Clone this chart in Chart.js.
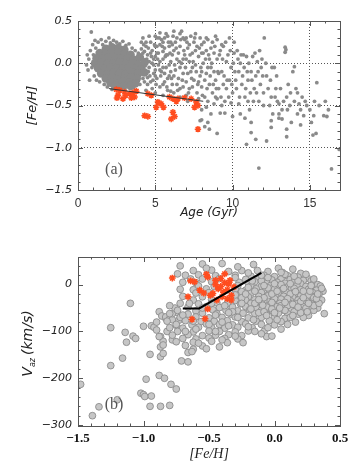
<!DOCTYPE html>
<html>
<head>
<meta charset="utf-8">
<script src="https://cdn.jsdelivr.net/npm/chart.js@4"></script>
<style>
  body { margin: 0; background: #fff; }
  canvas { display: block; }
</style>
</head>
<body>
<canvas id="ageChart" width="361" height="230"></canvas>
<canvas id="vazChart" width="361" height="237"></canvas>
<script>
// ---- panel (a): [Fe/H] vs age ----
const ageTicks = [0, 5, 10, 15];
const fehTicksA = [-1.5, -1.0, -0.5, 0.0, 0.5];
const ageGrid = [5, 10, 15];
const fehGridA = [-1.0, -0.5, 0.0];

// dense clump of young stars (drawn with bigger dots)
const coreAgeFeh = [
  [1.8, 0.17], [2.2, 0.19], [2.6, 0.18], [3.0, 0.16],
  [1.4, 0.12], [1.8, 0.11], [2.2, 0.13], [2.6, 0.12], [3.0, 0.11], [3.4, 0.10],
  [1.2, 0.06], [1.6, 0.05], [2.0, 0.07], [2.4, 0.06], [2.8, 0.05], [3.2, 0.06], [3.6, 0.04], [4.0, 0.07],
  [1.1, 0.00], [1.5, 0.01], [1.9, -0.01], [2.3, 0.00], [2.7, 0.01], [3.1, -0.01], [3.5, 0.00], [3.9, -0.02], [4.3, 0.01],
  [1.3, -0.06], [1.7, -0.07], [2.1, -0.05], [2.5, -0.06], [2.9, -0.07], [3.3, -0.05], [3.7, -0.06], [4.1, -0.07],
  [1.5, -0.12], [1.9, -0.13], [2.3, -0.11], [2.7, -0.12], [3.1, -0.13], [3.5, -0.11], [3.9, -0.12], [4.3, -0.11],
  [1.8, -0.18], [2.2, -0.17], [2.6, -0.19], [3.0, -0.18], [3.4, -0.17], [3.8, -0.18],
  [2.1, -0.23], [2.5, -0.24], [2.9, -0.22], [3.3, -0.23], [3.7, -0.24],
  [2.4, -0.27], [2.9, -0.28], [3.4, -0.27]
];

const fieldAgeFeh = [
  [0.55, -0.02], [0.6, 0.10], [0.65, -0.08], [0.7, 0.05], [0.75, -0.20], [0.8, 0.15], [0.86, 0.37],
  [0.9, -0.05], [0.95, 0.22], [1.0, 0.10], [1.05, -0.15], [1.1, 0.27], [1.15, 0.18], [1.2, -0.20],
  [1.3, 0.25], [1.4, -0.22], [1.5, 0.28], [1.6, 0.22], [1.7, -0.25], [1.8, 0.26], [1.9, -0.28],
  [2.0, 0.30], [2.1, 0.24], [2.3, 0.27], [2.5, 0.25], [2.7, 0.23], [2.9, 0.26], [3.1, 0.21],
  [3.3, 0.23], [3.5, 0.18], [3.7, 0.15], [3.9, 0.12], [4.1, 0.17], [4.2, -0.18], [4.3, -0.22],
  [4.0, -0.25], [2.2, -0.31], [2.6, -0.31], [3.0, -0.31], [3.6, -0.29], [3.9, -0.21],
  [4.2, 0.30], [4.4, 0.20], [4.5, 0.10], [4.6, -0.05], [4.4, -0.10], [4.7, 0.25], [4.8, 0.15],
  [4.6, 0.02], [4.9, -0.12], [4.5, -0.25], [4.8, -0.30], [5.0, 0.32], [5.1, 0.20], [5.0, 0.08],
  [5.2, -0.02], [5.1, -0.18], [5.3, -0.28], [5.2, 0.12], [5.4, 0.28], [5.5, 0.05], [5.4, -0.10],
  [5.6, -0.22], [5.6, 0.18], [5.7, 0.35], [5.8, 0.10], [5.7, -0.05], [5.9, -0.15], [5.8, -0.32],
  [6.0, 0.25], [6.0, 0.02], [6.1, -0.25], [6.2, 0.38], [6.2, 0.15], [6.3, -0.08], [6.2, -0.35],
  [6.4, 0.30], [6.4, 0.05], [6.5, -0.18], [6.6, 0.20], [6.6, -0.30], [6.7, 0.38], [6.7, 0.00],
  [6.8, -0.12], [6.9, 0.28], [6.9, 0.10], [7.0, -0.22], [7.0, -0.38], [7.1, 0.18], [7.2, 0.02],
  [7.2, -0.30], [7.3, 0.32], [7.3, -0.10], [7.4, 0.12], [7.5, -0.20], [7.5, 0.25], [7.6, -0.02],
  [7.7, 0.20], [7.7, -0.35], [7.8, 0.08], [7.9, -0.15], [8.0, 0.22], [8.0, -0.28], [8.1, 0.00],
  [8.2, -0.40], [8.3, 0.15], [8.3, -0.12], [8.4, 0.28], [8.5, -0.25], [8.5, 0.05], [8.6, -0.05],
  [8.7, 0.25], [8.7, -0.35], [8.8, 0.12], [8.9, -0.20], [9.0, 0.05], [9.0, 0.28], [9.1, -0.30],
  [9.2, 0.15], [9.3, -0.10], [9.4, 0.20], [9.5, -0.45], [9.6, 0.02], [9.7, 0.10], [9.8, -0.20],
  [9.9, -0.05], [10.0, -0.35], [10.1, 0.12], [10.3, 0.15], [10.4, -0.10], [10.5, 0.00],
  [4.3, 0.14], [4.5, -0.17], [4.7, -0.22], [4.9, 0.05], [5.0, -0.08], [5.3, 0.22], [5.3, 0.02],
  [5.5, -0.25], [5.6, 0.30], [5.9, 0.20], [5.9, -0.02], [6.1, 0.10], [6.3, 0.25], [6.4, -0.25],
  [6.5, 0.12], [6.8, 0.30], [6.8, -0.28], [7.0, 0.05], [7.1, -0.12], [7.4, -0.28], [7.6, 0.15],
  [7.8, -0.22], [8.1, 0.12], [8.4, -0.05], [8.6, 0.18], [8.9, -0.40], [9.1, -0.12], [9.4, -0.25],
  [4.4, 0.25], [4.8, 0.00], [5.1, 0.30], [5.5, 0.14], [5.8, -0.18], [6.0, -0.10], [6.6, -0.05],
  [7.2, 0.22], [7.9, 0.30], [8.2, -0.20], [8.8, -0.10], [9.6, -0.30], [10.2, -0.20], [10.6, -0.25],
  [4.25, 0.22], [4.35, -0.03], [4.45, 0.05], [4.55, 0.18], [4.65, -0.15], [4.75, 0.08], [4.85, -0.20],
  [4.95, 0.22], [5.05, -0.25], [5.15, 0.05], [5.25, 0.30], [5.35, -0.15], [5.45, 0.20], [5.5, -0.05],
  [5.65, 0.08], [5.75, -0.28], [5.85, 0.25], [5.95, 0.12], [6.05, -0.18], [6.15, 0.32], [6.25, -0.02],
  [6.35, 0.18], [6.45, -0.32], [6.55, 0.02], [6.65, 0.28], [6.75, -0.20], [6.85, 0.15], [6.95, -0.05],
  [7.05, 0.25], [7.15, -0.35], [7.25, 0.10], [7.35, -0.18], [7.45, 0.02], [7.55, 0.30], [7.65, -0.10],
  [7.75, -0.25], [7.85, 0.18], [7.95, -0.05], [8.05, -0.38], [8.15, 0.25], [8.25, 0.05], [8.35, -0.30],
  [8.45, 0.10], [8.55, -0.15], [8.65, 0.00], [8.75, -0.25], [8.85, 0.20], [8.95, -0.30], [9.05, -0.10],
  [9.15, 0.10], [9.25, -0.40], [9.35, 0.05], [9.45, -0.15], [9.55, 0.25], [9.65, -0.20], [9.75, -0.40],
  [9.85, 0.15], [9.95, -0.25], [10.05, 0.00], [10.15, -0.10], [10.25, -0.30], [10.35, 0.05],
  [10.45, -0.40], [10.55, 0.10], [10.65, -0.15], [10.75, -0.05], [10.85, -0.30], [10.95, -0.10],
  [11.05, 0.00], [11.15, -0.35], [11.25, -0.20], [11.35, -0.45], [11.45, 0.12], [11.55, -0.35],
  [11.65, -0.10], [11.75, 0.15], [11.85, -0.05], [11.95, -0.15], [12.15, 0.00], [12.3, -0.30],
  [12.45, -0.20], [12.55, -0.05], [12.75, -0.40], [12.85, -0.15], [13.1, -0.30], [13.3, -0.45],
  [13.55, -0.55], [13.75, -0.35], [14.2, -0.35], [14.4, -0.55], [14.7, -0.45], [15.25, -0.62],
  [15.6, -0.50], [16.0, -0.45], [16.2, -0.55],
  [4.1, 0.25], [4.6, 0.32], [5.0, 0.20], [5.3, 0.36], [5.8, 0.32], [6.1, 0.22], [6.6, 0.35],
  [7.0, 0.30], [7.6, 0.35], [8.0, 0.12], [8.3, 0.30], [8.9, 0.32], [9.3, 0.22], [9.8, 0.30], [10.1, 0.25],
  [4.4, -0.32], [5.0, -0.35], [5.5, -0.38], [6.0, -0.33], [6.6, -0.40], [7.1, -0.45], [7.8, -0.42],
  [8.4, -0.45], [9.0, -0.42],
  [4.15, -0.05], [4.2, 0.12], [4.4, 0.00], [4.55, -0.10], [4.7, 0.12], [4.9, -0.02], [5.1, 0.12],
  [5.3, -0.08], [5.5, 0.25], [5.7, 0.10], [5.0, -0.15], [5.6, -0.12], [6.2, -0.15], [6.8, 0.05],
  [7.4, -0.05], [8.0, -0.10],
  [10.7, 0.10], [10.8, -0.40], [10.9, 0.08], [11.0, -0.20], [11.1, -0.55], [11.2, -0.10],
  [11.3, 0.08], [11.4, -0.30], [11.5, -0.15], [11.6, 0.02], [11.7, -0.45], [11.8, -0.25],
  [11.9, 0.05], [12.0, -0.35], [12.05, 0.30], [12.2, -0.15], [12.4, -0.50], [12.5, -0.40],
  [12.6, -0.60], [12.7, -0.05], [12.8, -0.30], [12.9, -0.45], [13.0, -0.65], [13.2, -0.55],
  [13.4, 0.19], [13.4, 0.13], [13.45, 0.16], [13.5, -0.40], [13.6, -0.25], [13.7, -0.50],
  [13.8, -0.70], [13.9, -0.10], [14.0, -0.04], [14.1, -0.30], [14.3, -0.48], [14.5, -0.40],
  [14.6, -0.62], [14.8, -0.50], [15.0, -0.55], [15.1, -0.70], [15.3, -0.45], [15.45, -0.23],
  [15.2, -0.85], [15.4, -0.83], [15.9, -0.62], [16.1, -0.63], [16.4, -1.25], [16.9, -1.02],
  [11.7, -1.24], [10.9, -0.96], [11.5, -0.90], [12.2, -0.92], [11.2, -0.70], [11.2, -0.82],
  [12.5, -0.68], [12.5, -0.76], [13.0, -0.60], [13.2, -0.66], [13.5, -0.78], [13.5, -0.87],
  [14.2, -0.60], [14.4, -0.73], [9.0, -0.83], [7.9, -0.68], [8.0, -0.67], [8.2, -0.75],
  [8.5, -0.78], [8.4, -0.70], [9.2, -0.59], [9.5, -0.59], [10.0, -0.63], [10.5, -0.60],
  [10.8, -0.65], [8.3, -0.52], [8.8, -0.48], [9.3, -0.50], [9.9, -0.47], [10.4, -0.48],
  [11.0, -0.45], [12.0, -0.50], [13.0, -0.48], [14.0, -0.45], [8.0, -0.55], [8.6, -0.60]
];

const starAgeFeh = [
  [2.48, -0.31], [2.69, -0.32], [3.01, -0.34], [3.34, -0.36], [3.55, -0.35], [3.77, -0.33],
  [2.59, -0.38], [2.91, -0.42], [3.45, -0.41], [3.66, -0.40], [3.08, -0.38], [2.52, -0.41],
  [4.52, -0.36], [4.74, -0.38], [5.17, -0.46], [5.06, -0.52], [5.38, -0.48], [5.53, -0.52],
  [5.92, -0.40], [6.14, -0.42], [6.46, -0.42], [6.89, -0.41], [7.32, -0.42], [7.65, -0.46],
  [7.54, -0.52], [7.76, -0.50], [6.36, -0.45], [4.31, -0.62], [4.52, -0.63], [6.14, -0.58],
  [6.03, -0.66], [6.25, -0.63], [7.76, -0.78]
];

const trendAge = [2.0, 8.1];
const trendFeh = [-0.30, -0.45];

// ---- panel (b): V_az vs [Fe/H] ----
const fehTicksB = [-1.5, -1.0, -0.5, 0.0, 0.5];
const vazTicks = [-300, -200, -100, 0];

const fieldFehVaz = [
  // sparse metal-poor tail
  [-1.48, -213], [-1.39, -280], [-1.34, -261], [-1.25, -92], [-1.25, -173], [-1.20, -246],
  [-1.16, -157], [-1.14, -102], [-1.13, -123], [-1.10, -40], [-1.08, -110], [-1.06, -115],
  [-1.00, -89], [-1.02, -232], [-1.00, -235], [-0.99, -239], [-0.94, -238], [-0.98, -202],
  [-0.95, -260], [-0.95, -149], [-0.94, -88], [-0.92, -91], [-0.90, -97], [-0.87, -260],
  [-0.88, -194], [-0.87, -154], [-0.85, -147], [-0.84, -200], [-0.80, -258], [-0.79, -213],
  [-0.75, -223], [-0.71, -163], [-0.88, -58], [-0.86, -67], [-0.83, -72], [-0.87, -111],
  [-0.85, -121], [-0.87, -133], [-0.85, -129], [-0.88, -111], [-0.83, -69], [-0.80, -73],
  [-0.78, -75], [-0.75, -87], [-0.73, -76], [-0.74, -60], [-0.78, -62], [-0.76, -50],
  [-0.80, -45], [-0.74, 23], [-0.90, -80], [-0.82, -100], [-0.78, -118], [-0.66, -165],
  // main cloud, row by row
  [-0.72, 40], [-0.55, 44], [-0.40, 45], [-0.16, 43], [0.14, 33],
  [-0.62, 30], [-0.48, 31], [-0.35, 28], [-0.25, 30], [-0.05, 28], [0.06, 26], [0.20, 24],
  [-0.68, 20], [-0.58, 21], [-0.45, 19], [-0.30, 20], [-0.18, 18], [-0.08, 20], [0.00, 17], [0.10, 19], [0.18, 16], [0.25, 14],
  [-0.55, 12], [-0.42, 13], [-0.22, 11], [-0.12, 12], [-0.02, 10], [0.05, 12], [0.12, 11], [0.22, 9], [0.28, 8],
  [-0.70, 5], [-0.60, 4], [-0.48, 6], [-0.27, 5], [-0.20, 3], [-0.15, 6], [-0.06, 4], [0.02, 5], [0.08, 3], [0.15, 6], [0.20, 2], [0.30, 4], [0.33, 0],
  [-0.58, -3], [-0.46, -4], [-0.28, -2], [-0.18, -3], [-0.10, -4], [-0.03, -2], [0.04, -3], [0.10, -5], [0.17, -2], [0.24, -4], [0.28, -6], [0.35, -3],
  [-0.72, -10], [-0.62, -11], [-0.52, -9], [-0.30, -10], [-0.22, -12], [-0.14, -9], [-0.07, -11], [0.00, -10], [0.06, -12], [0.13, -9], [0.20, -11], [0.26, -10], [0.32, -12], [0.37, -14],
  [-0.60, -18], [-0.50, -17], [-0.26, -19], [-0.18, -18], [-0.10, -17], [-0.04, -19], [0.03, -18], [0.09, -16], [0.16, -19], [0.22, -18], [0.29, -17], [0.34, -20],
  [-0.70, -25], [-0.55, -26], [-0.28, -24], [-0.20, -26], [-0.12, -25], [-0.05, -24], [0.01, -26], [0.07, -25], [0.14, -27], [0.20, -24], [0.25, -26], [0.31, -25],
  [-0.62, -33], [-0.48, -32], [-0.30, -34], [-0.22, -33], [-0.15, -32], [-0.08, -34], [-0.01, -33], [0.05, -31], [0.12, -34], [0.18, -33], [0.24, -32], [0.30, -34], [0.36, -33],
  [-0.72, -40], [-0.58, -41], [-0.44, -39], [-0.36, -40], [-0.26, -41], [-0.18, -40], [-0.10, -39], [-0.03, -41], [0.04, -40], [0.11, -39], [0.17, -41], [0.23, -40], [0.29, -42],
  [-0.66, -48], [-0.52, -47], [-0.42, -49], [-0.32, -48], [-0.22, -47], [-0.14, -49], [-0.06, -48], [0.02, -47], [0.09, -49], [0.15, -48], [0.22, -47], [0.28, -49], [0.33, -50],
  [-0.74, -55], [-0.60, -56], [-0.47, -54], [-0.37, -55], [-0.28, -56], [-0.19, -54], [-0.10, -55], [-0.02, -56], [0.06, -54], [0.13, -55], [0.20, -56], [0.30, -55],
  [-0.80, -62], [-0.66, -63], [-0.55, -61], [-0.44, -62], [-0.33, -63], [-0.24, -61], [-0.15, -62], [-0.06, -63], [0.03, -61], [0.10, -62], [0.18, -63], [0.26, -66], [0.38, -62],
  [-0.72, -70], [-0.60, -69], [-0.50, -71], [-0.40, -70], [-0.30, -69], [-0.20, -71], [-0.10, -70], [0.00, -69], [0.08, -72], [0.22, -70],
  [-0.82, -78], [-0.68, -77], [-0.56, -79], [-0.46, -78], [-0.36, -77], [-0.25, -79], [-0.14, -78], [-0.04, -77], [0.05, -79], [0.16, -80],
  [-0.75, -85], [-0.63, -86], [-0.52, -84], [-0.42, -85], [-0.32, -86], [-0.22, -84], [-0.10, -85], [0.00, -86],
  [-0.80, -92], [-0.70, -93], [-0.58, -91], [-0.48, -92], [-0.38, -93], [-0.28, -91], [-0.17, -92], [0.05, -95],
  [-0.74, -100], [-0.62, -101], [-0.50, -99], [-0.42, -100], [-0.30, -101], [-0.20, -99], [-0.08, -100],
  [-0.78, -108], [-0.66, -107], [-0.55, -109], [-0.45, -108], [-0.35, -107], [-0.25, -109], [-0.06, -111], [-0.02, -110],
  [-0.70, -115], [-0.60, -116], [-0.50, -114], [-0.38, -115], [-0.28, -116],
  [-0.75, -122], [-0.62, -123], [-0.48, -121], [-0.36, -124], [-0.24, -124],
  [-0.68, -130], [-0.55, -131], [-0.42, -133], [-0.62, -138], [-0.52, -137], [-0.66, -145], [-0.63, -143],
  // extra fill of the metal-rich core
  [-0.15, -14], [-0.05, -7], [0.05, 0], [0.12, -20], [0.00, -30], [-0.09, -44], [0.10, -45],
  [0.20, -36], [-0.20, -6], [0.18, 8], [0.26, -22], [-0.02, -52], [0.15, -58], [-0.12, -60],
  [0.07, -8], [-0.25, -15], [0.24, -50], [0.30, -28], [-0.05, 15], [0.08, 22],
  [-0.30, 15], [-0.20, 25], [-0.10, 8], [0.00, 2], [0.15, -8], [0.27, -14], [-0.25, -28],
  [-0.15, -40], [0.05, -45], [0.20, -60], [-0.32, -58], [-0.45, -65], [-0.55, -50], [-0.65, -40],
  [-0.60, -95], [-0.45, -100], [-0.35, -88], [-0.20, -90], [-0.10, -105], [-0.68, -100],
  [-0.58, -125], [-0.40, -118], [-0.30, -110], [0.12, -70], [0.30, -45], [0.34, -40],
  [-0.70, -65], [-0.62, -78], [-0.48, -40], [-0.38, -45], [-0.13, 30], [0.03, 35], [-0.28, 38],
  [-0.52, 35], [-0.64, 12], [0.10, -30], [0.16, -15], [-0.02, -20], [-0.08, -28], [0.22, -28],
  [-0.18, -52], [-0.08, -58], [0.00, -60], [0.08, -55], [0.25, -58], [-0.22, -20], [-0.12, -32],
  [-0.02, -38], [0.08, -38], [0.14, -42], [0.26, -40], [0.32, -30], [0.28, -2], [0.22, -14],
  [0.12, 2], [0.02, -14], [-0.08, -2], [-0.17, 8], [-0.10, 20], [0.05, 26], [0.15, 18],
  [0.24, 22], [0.30, 12], [-0.25, -40], [-0.30, -22], [-0.35, -60], [-0.28, -70], [-0.16, -75],
  [0.02, -75], [0.10, -85], [-0.05, -92], [-0.15, -100], [0.33, -20], [0.36, -8], [0.18, -48],
  [0.04, -50], [-0.06, -66], [0.14, -66], [-0.40, -80], [-0.50, -85]
];

const starFehVaz = [
  [-0.78, 14], [-0.64, 8], [-0.61, 6], [-0.66, -26], [-0.57, -12], [-0.54, -18],
  [-0.52, 22], [-0.51, 16], [-0.51, -52], [-0.63, -74], [-0.53, -73],
  [-0.45, 9], [-0.41, 13], [-0.38, 4], [-0.35, 2], [-0.34, 9], [-0.31, -5], [-0.33, -23],
  [-0.36, -30], [-0.40, -26], [-0.44, -33], [-0.47, -19], [-0.43, -9], [-0.39, -16],
  [-0.36, -11], [-0.45, 0], [-0.41, -4], [-0.49, -23], [-0.33, -33], [-0.38, 23]
];

const ridgeFeh = [-0.70, -0.575, -0.10];
const ridgeVaz = [-51, -51, 25];

// ---- helpers ----
const toXY = (pairs) => pairs.map(([x, y]) => ({ x, y }));
const zip = (xs, ys) => xs.map((x, i) => ({ x, y: ys[i] }));
const minus = (s) => s.replace('-', '\u2212');

// box frame with IDL style inward ticks
const idlFrame = {
  id: 'idlFrame',
  afterDatasetsDraw(chart, args, o) {
    const { ctx, chartArea: a, scales: { x, y } } = chart;
    ctx.save();
    ctx.strokeStyle = '#555';
    ctx.lineWidth = 1;
    ctx.strokeRect(Math.round(a.left) + 0.5, Math.round(a.top) + 0.5,
      Math.round(a.width), Math.round(a.height));
    const marks = (scale, minor, major, cb) => {
      const n0 = Math.ceil(scale.min / minor - 1e-6);
      const n1 = Math.floor(scale.max / minor + 1e-6);
      for (let n = n0; n <= n1; n++) {
        const v = n * minor;
        const r = v / major;
        const isMajor = Math.abs(r - Math.round(r)) < 1e-6;
        cb(Math.round(scale.getPixelForValue(v)) + 0.5, isMajor ? 5 : 2.5);
      }
    };
    ctx.beginPath();
    marks(x, o.xMinor, o.xMajor, (px, len) => {
      ctx.moveTo(px, a.bottom); ctx.lineTo(px, a.bottom - len);
      ctx.moveTo(px, a.top); ctx.lineTo(px, a.top + len);
    });
    marks(y, o.yMinor, o.yMajor, (py, len) => {
      ctx.moveTo(a.left, py); ctx.lineTo(a.left + len, py);
      ctx.moveTo(a.right, py); ctx.lineTo(a.right - len, py);
    });
    ctx.stroke();
    ctx.restore();
  }
};

// panel letter and the subscripted V_az title
const panelText = {
  id: 'panelText',
  afterDraw(chart, args, o) {
    const { ctx, chartArea: a } = chart;
    ctx.save();
    ctx.fillStyle = '#555';
    ctx.font = '16px "Liberation Serif"';
    ctx.textAlign = 'center';
    ctx.textBaseline = 'middle';
    ctx.fillText(o.label, a.left + 36, a.bottom - o.labelUp);
    if (o.vazTitle) {
      ctx.translate(28, (a.top + a.bottom) / 2 + 2);
      ctx.rotate(-Math.PI / 2);
      ctx.fillStyle = '#222';
      const big = 'italic 14px "DejaVu Sans"';
      const small = 'italic 8px "DejaVu Sans"';
      ctx.font = big;
      const wV = ctx.measureText('V').width;
      const wRest = ctx.measureText('(km/s)').width;
      ctx.font = small;
      const wSub = ctx.measureText('az').width;
      const total = wV + wSub + 3 + wRest;
      let cx = -total / 2;
      ctx.textAlign = 'left';
      ctx.font = big;
      ctx.fillText('V', cx, 0);
      cx += wV;
      ctx.font = small;
      ctx.fillText('az', cx, 5);
      cx += wSub + 3;
      ctx.font = big;
      ctx.fillText('(km/s)', cx, 0);
    }
    ctx.restore();
  }
};

const gray = 'rgb(138,138,138)';
const red = '#ff4d1f';

new Chart(document.getElementById('ageChart'), {
  type: 'scatter',
  data: {
    datasets: [
      { data: toXY(coreAgeFeh), pointRadius: 4.3, backgroundColor: gray, borderWidth: 0, order: 4 },
      { data: toXY(fieldAgeFeh), pointRadius: 1.9, backgroundColor: gray, borderWidth: 0, order: 3 },
      { data: toXY(starAgeFeh), pointStyle: 'star', pointRadius: 3.2, borderColor: red, borderWidth: 1.5, order: 2 },
      { type: 'line', data: zip(trendAge, trendFeh), borderColor: '#333', borderWidth: 1, pointRadius: 0, order: 1 }
    ]
  },
  options: {
    responsive: false,
    animation: false,
    events: [],
    layout: { padding: { left: 0, right: 21, top: 21, bottom: 0 } },
    plugins: {
      legend: { display: false },
      tooltip: { enabled: false },
      idlFrame: { xMinor: 1, xMajor: 5, yMinor: 0.1, yMajor: 0.5 },
      panelText: { label: '(a)', labelUp: 20 }
    },
    scales: {
      x: {
        min: 0,
        max: 16.95,
        afterBuildTicks: (s) => { s.ticks = ageTicks.map((value) => ({ value })); },
        afterFit: (s) => { s.height = 40; },
        border: { display: false, dash: [1, 2] },
        grid: {
          drawTicks: false,
          color: (c) => (ageGrid.includes(c.tick && c.tick.value) ? '#555' : 'transparent'),
          lineWidth: 1
        },
        ticks: {
          padding: 6,
          color: '#333',
          font: { family: 'Liberation Sans', size: 12 },
          callback: (v) => String(v)
        },
        title: {
          display: true,
          text: 'Age (Gyr)',
          color: '#222',
          font: { family: 'DejaVu Sans', size: 12, style: 'italic' },
          padding: 10
        }
      },
      y: {
        min: -1.5,
        max: 0.5,
        afterBuildTicks: (s) => { s.ticks = fehTicksA.map((value) => ({ value })); },
        afterFit: (s) => { s.width = 78; },
        border: { display: false, dash: [1, 2] },
        grid: {
          drawTicks: false,
          color: (c) => (fehGridA.includes(c.tick && c.tick.value) ? '#555' : 'transparent'),
          lineWidth: 1
        },
        ticks: {
          padding: 6,
          color: '#222',
          font: { family: 'DejaVu Sans', size: 11, style: 'italic' },
          callback: (v) => minus(v.toFixed(1))
        },
        title: {
          display: true,
          text: '[Fe/H]',
          color: '#222',
          font: { family: 'DejaVu Sans', size: 13, style: 'italic' },
          padding: 25
        }
      }
    }
  },
  plugins: [idlFrame, panelText]
});

new Chart(document.getElementById('vazChart'), {
  type: 'scatter',
  data: {
    datasets: [
      { data: toXY(fieldFehVaz), pointRadius: 3.4, backgroundColor: 'rgb(198,198,198)', borderColor: 'rgb(140,140,140)', borderWidth: 0.9, order: 3 },
      { data: toXY(starFehVaz), pointStyle: 'star', pointRadius: 3.4, borderColor: red, borderWidth: 1.6, order: 2 },
      { type: 'line', data: zip(ridgeFeh, ridgeVaz), borderColor: '#000', borderWidth: 2.2, pointRadius: 0, order: 1 }
    ]
  },
  options: {
    responsive: false,
    animation: false,
    events: [],
    layout: { padding: { left: 0, right: 21, top: 27, bottom: 0 } },
    plugins: {
      legend: { display: false },
      tooltip: { enabled: false },
      idlFrame: { xMinor: 0.1, xMajor: 0.5, yMinor: 20, yMajor: 100 },
      panelText: { label: '(b)', labelUp: 21, vazTitle: true }
    },
    scales: {
      x: {
        min: -1.5,
        max: 0.5,
        afterBuildTicks: (s) => { s.ticks = fehTicksB.map((value) => ({ value })); },
        afterFit: (s) => { s.height = 41; },
        border: { display: false },
        grid: { display: false, drawTicks: false },
        ticks: {
          padding: 5,
          color: '#111',
          font: { family: 'Liberation Serif', size: 13, weight: 'bold' },
          callback: (v) => minus(v.toFixed(1))
        },
        title: {
          display: true,
          text: '[Fe/H]',
          color: '#222',
          font: { family: 'Liberation Serif', size: 14, style: 'italic' },
          padding: 4
        }
      },
      y: {
        min: -302,
        max: 59,
        afterBuildTicks: (s) => { s.ticks = vazTicks.map((value) => ({ value })); },
        afterFit: (s) => { s.width = 78; },
        border: { display: false },
        grid: { display: false, drawTicks: false },
        ticks: {
          padding: 6,
          color: '#222',
          font: { family: 'DejaVu Sans', size: 11, style: 'italic' },
          callback: (v) => minus(String(v))
        }
      }
    }
  },
  plugins: [idlFrame, panelText]
});
</script>
</body>
</html>
